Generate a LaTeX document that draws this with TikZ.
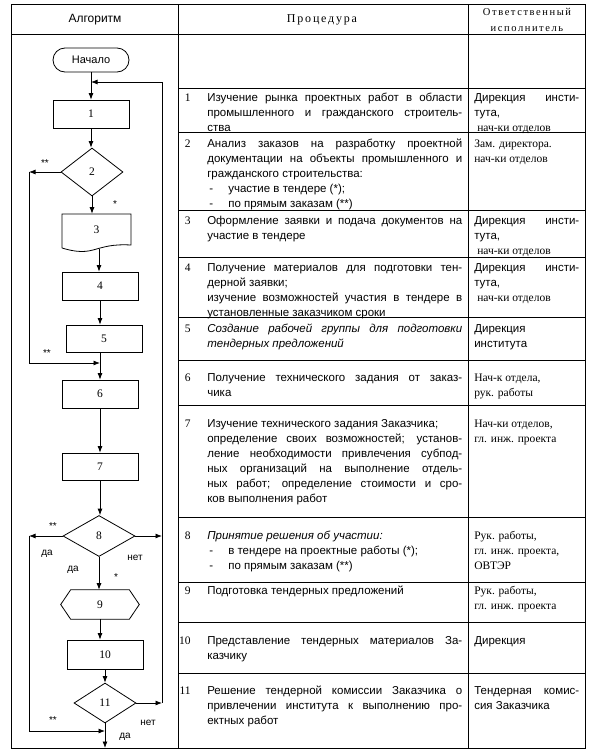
\documentclass[tikz,border=0pt]{standalone}
\usepackage{fontspec}
\setmainfont{Liberation Serif}
\setsansfont{Liberation Sans}
\newfontfamily\headfont[LetterSpace=15]{Liberation Serif}
\usetikzlibrary{positioning, calc, shapes.geometric}
\usetikzlibrary{arrows.meta}
\tolerance=9999

\begin{document}
\begin{tikzpicture}[x=1pt, y=-1pt, >={Latex[length=6.5pt, width=5pt]}, line width=0.6pt,
    flow/.style={line width=0.8pt},
    box/.style={draw, flow, rectangle, minimum width=76pt, minimum height=28pt, inner sep=0pt, font=\fontsize{11.5}{13}\selectfont},
    dec/.style={draw, flow, diamond, inner sep=0pt, font=\fontsize{11.5}{13}\selectfont},
    lbl/.style={inner sep=0pt, font=\sffamily\fontsize{10}{12}\selectfont},
    num/.style={anchor=base east, inner sep=0pt, font=\fontsize{11.5}{15}\selectfont},
    proc/.style={anchor=base west, inner sep=0pt, text width=255pt, align=justify, font=\sffamily\fontsize{11.5}{15}\selectfont},
    resp/.style={anchor=base west, inner sep=0pt, text width=105pt, align=justify, font=\sffamily\fontsize{11.5}{15}\selectfont}]
        \useasboundingbox (0,0) rectangle (594,755);

        % Table frame
        \draw (11,4) rectangle (585,748);
        \draw (11,34) -- (585,34);
        \draw (178,4) -- (178,748);
        \draw (468,4) -- (468,748);
        \foreach \y in {88,132,210,257,317,360,405,517,582,622,673} {
            \draw (178,\y) -- (585,\y);
        }

        % Header
        \node[font=\sffamily\fontsize{12}{14}\selectfont] (hAlg) at (95,20) {Алгоритм};
        \node[font=\headfont\fontsize{12}{14}\selectfont] (hProc) at (322,20) {Процедура};
        \node[font=\headfont\fontsize{10.5}{16}\selectfont, align=center] (hResp) at (527,20) {Ответственный\\исполнитель};

        % Flowchart nodes
        \node[draw, flow, rounded corners=12pt, minimum width=76pt, minimum height=24pt, inner sep=0pt, font=\sffamily\fontsize{11}{13}\selectfont] (start) at (91,60) {Начало};
        \node[box] (b1) at (91,114) {1};
        \node[dec, minimum width=62pt, minimum height=48pt] (d2) at (92,172) {2};
        \node[minimum width=69pt, minimum height=32pt, inner sep=0pt, font=\fontsize{11.5}{13}\selectfont] (b3) at (96.5,230) {3};
        \draw[flow] (62,248) -- (62,214) -- (131,214) -- (131,245)
            .. controls (112,244) and (104,247) .. (93,250)
            .. controls (82,253) and (72,251) .. (62,248);
        \coordinate (b3out) at (99,249);
        \node[box] (b4) at (100,286) {4};
        \node[box, minimum height=27pt] (b5) at (104,338.5) {5};
        \node[box] (b6) at (100,394) {6};
        \node[box, minimum height=27pt] (b7) at (100,466.5) {7};
        \node[dec, minimum width=72pt, minimum height=41pt] (d8) at (99,536) {8};
        \node[minimum width=78pt, minimum height=29pt, inner sep=0pt, font=\fontsize{11.5}{13}\selectfont] (h9) at (100,604.5) {9};
        \draw[flow] (h9.west) -- ($(h9.north west)+(10,0)$) -- ($(h9.north east)+(-10,0)$) -- (h9.east)
            -- ($(h9.south east)+(-10,0)$) -- ($(h9.south west)+(10,0)$) -- cycle;
        \node[box, minimum height=29pt] (b10) at (105,654.5) {10};
        \node[dec, minimum width=62pt, minimum height=40pt] (d11) at (105,703) {11};

        % Junctions
        \coordinate (j1) at (91,82);
        \coordinate (j56) at (100,363);
        \coordinate (jend) at (105,731);
        \coordinate (fin) at (105,748);
        \coordinate (l2) at (29,172);
        \coordinate (l8) at (29,536);
        \coordinate (r8) at (162,536);
        \coordinate (r11) at (162,703);

        % Edges
        \begin{scope}[flow]
        \draw[->] (start.south) -- (start.south |- b1.north);
        \draw[->] (b1.south) -- (b1.south |- d2.north);
        \draw[->] (d2.south) -- (d2.south |- b3.north);
        \draw[->] (b3out) -- (b3out |- b4.north);
        \draw[->] (b4.south) -- (b4.south |- b5.north);
        \draw[->] (b4.south |- b5.south) -- (b4.south |- b6.north);
        \draw[->] (b6.south) -- (b6.south |- b7.north);
        \draw[->] (b7.south) -- (b7.south |- d8.north);
        \draw[->] (d8.south) -- (d8.south |- h9.north);
        \draw[->] (h9.south) -- (h9.south |- b10.north);
        \draw[->] (b10.south) -- (b10.south |- d11.north);
        \draw[->] (d11.south) -- (fin);
        \draw[->] (d2.west) -- (l2);
        \draw[->] (l2) |- (j56);
        \draw[->] (d8.west) -- (l8);
        \draw[->] (l8) |- (jend);
        \draw[->] (d8.east) -- (r8);
        \draw[->] (d11.east) -- (r11);
        \draw[->] (r11) |- (j1);
        \end{scope}

        % Edge labels
        \node[lbl] (s2) at (45,163) {**};
        \node[lbl] (s3) at (115,204) {*};
        \node[lbl] (s5) at (47,353) {**};
        \node[lbl] (s8) at (53,526) {**};
        \node[lbl] (y8) at (47,554) {да};
        \node[lbl] (n8) at (135,558) {нет};
        \node[lbl] (y8b) at (73,570) {да};
        \node[lbl] (s9) at (116,577) {*};
        \node[lbl] (s11) at (53,720) {**};
        \node[lbl] (n11) at (148,723) {нет};
        \node[lbl] (y11) at (125,737) {да};

        % Rows: number, procedure, responsible
        \node[num] (n1) at (191,101) {1};
        \node[proc] (p1) at (207,101) {Изучение рынка проектных работ в области\linebreak промышленного и гражданского строитель-\linebreak ства};
        \node[resp] (e1) at (474,101) {Дирекция инсти-\linebreak тута,\\ \hspace*{3pt}{\rmfamily нач-ки отделов}};

        \node[num] (n2) at (191,147) {2};
        \node[proc] (p2) at (207,147) {Анализ заказов на разработку проектной\linebreak документации на объекты промышленного и\linebreak гражданского строительства:\\ \hspace*{2pt}\makebox[19pt][l]{-}участие в тендере (*);\\ \hspace*{2pt}\makebox[19pt][l]{-}по прямым заказам (**)};
        \node[resp, font=\fontsize{11.5}{15}\selectfont] (e2) at (474,147) {Зам. директора.\\ нач-ки отделов};

        \node[num] (n3) at (191,224) {3};
        \node[proc] (p3) at (207,224) {Оформление заявки и подача документов на\linebreak участие в тендере};
        \node[resp] (e3) at (474,224) {Дирекция инсти-\linebreak тута,\\ \hspace*{3pt}{\rmfamily нач-ки отделов}};

        \node[num] (n4) at (191,271) {4};
        \node[proc] (p4) at (207,271) {Получение материалов для подготовки тен-\linebreak дерной заявки;\\ изучение возможностей участия в тендере в\linebreak установленные заказчиком сроки};
        \node[resp] (e4) at (474,271) {Дирекция инсти-\linebreak тута,\\ \hspace*{3pt}{\rmfamily нач-ки отделов}};

        \node[num] (n5) at (191,332) {5};
        \node[proc, font=\sffamily\itshape\fontsize{11.5}{15}\selectfont] (p5) at (207,332) {Создание рабочей группы для подготовки\linebreak тендерных предложений};
        \node[resp] (e5) at (474,332) {Дирекция\\ института};

        \node[num] (n6) at (191,381) {6};
        \node[proc] (p6) at (207,381) {Получение технического задания от заказ-\linebreak чика};
        \node[resp, font=\fontsize{11.5}{15}\selectfont] (e6) at (474,381) {Нач-к отдела,\\ рук. работы};

        \node[num] (n7) at (191,427) {7};
        \node[proc] (p7) at (207,427) {Изучение технического задания Заказчика;\\ определение своих возможностей; установ-\linebreak ление необходимости привлечения субпод-\linebreak ных организаций на выполнение отдель-\linebreak ных работ; определение стоимости и сро-\linebreak ков выполнения работ};
        \node[resp, font=\fontsize{11.5}{15}\selectfont] (e7) at (474,427) {Нач-ки отделов,\\ гл. инж. проекта};

        \node[num] (n8) at (191,539) {8};
        \node[proc] (p8) at (207,539) {{\itshape Принятие решения об участии:}\\ \hspace*{2pt}\makebox[19pt][l]{-}в тендере на проектные работы (*);\\ \hspace*{2pt}\makebox[19pt][l]{-}по прямым заказам (**)};
        \node[resp, font=\fontsize{11.5}{15}\selectfont] (e8) at (474,539) {Рук. работы,\\ гл. инж. проекта,\\ ОВТЭР};

        \node[num] (n9) at (191,594) {9};
        \node[proc] (p9) at (207,594) {Подготовка тендерных предложений};
        \node[resp, font=\fontsize{11.5}{15}\selectfont] (e9) at (474,594) {Рук. работы,\\ гл. инж. проекта};

        \node[num] (n10) at (191,644) {10};
        \node[proc] (p10) at (207,644) {Представление тендерных материалов За-\linebreak казчику};
        \node[resp] (e10) at (474,644) {Дирекция};

        \node[num] (n11) at (191,694) {11};
        \node[proc] (p11) at (207,694) {Решение тендерной комиссии Заказчика о\linebreak привлечении института к выполнению про-\linebreak ектных работ};
        \node[resp] (e11) at (474,694) {Тендерная комис-\linebreak сия Заказчика};
    \end{tikzpicture}
\end{document}
